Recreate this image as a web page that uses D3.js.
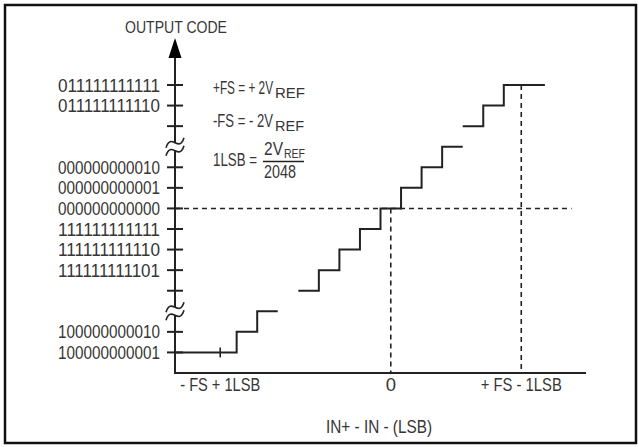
<!DOCTYPE html>
<html>
<head>
<meta charset="utf-8">
<script src="https://cdn.jsdelivr.net/npm/d3@7"></script>
<style>
  body { margin: 0; background: #fff; }
  svg text { font-family: "Liberation Sans", Arial, sans-serif; fill: #363636; }
</style>
</head>
<body>
<script>
// y levels are counted in code steps above the x axis, x in LSB steps right of the y axis
var tickLevels = [1, 2, 4, 5, 6, 7, 8, 9, 10, 12, 13, 14];
var tickLabels = ["100000000001", "100000000010", "", "111111111101", "111111111110", "111111111111",
                  "000000000000", "000000000001", "000000000010", "", "011111111110", "011111111111"];
var breakLevels = [3, 11];

// staircase pieces: [lsb, code level] points, drawn step-after
var stairLow  = [[0, 1], [3, 2], [4, 3], [5, 3]];
var stairMid  = [[6, 4], [7, 5], [8, 6], [9, 7], [10, 8], [11, 9], [12, 10], [13, 11], [14, 11]];
var stairHigh = [[14, 12], [15, 13], [16, 14], [18, 14]];

var xTickPos    = [2.2, 10.5, 16.85];
var xTickLabels = ["- FS + 1LSB", "0", "+ FS - 1LSB"];
var xTickWidths = [80, 0, 81];
var zeroLevel = 8, fullLevel = 14;

var W = 639, H = 447;
var svg = d3.select("body").append("svg").attr("width", W).attr("height", H);

var x = d3.scaleLinear().domain([0, 20]).range([175, 586]);
var y = d3.scaleLinear().domain([0, 14]).range([373, 85]);
var ink = "#222";

// text helper, squeezes to a width when given (the original face is condensed)
function txt(px, py, s, size, anchor, w) {
  var t = svg.append("text").attr("x", px).attr("y", py)
     .style("font-size", size + "px").attr("text-anchor", anchor || "start").text(s);
  if (w) t.attr("textLength", w).attr("lengthAdjust", "spacingAndGlyphs");
  return t;
}

// frame
svg.append("rect").attr("x", 5).attr("y", 5).attr("width", 631).attr("height", 438)
   .attr("fill", "none").attr("stroke", "#111").attr("stroke-width", 2.5);

// dashed guides
var dash = svg.append("g").attr("stroke", ink).attr("stroke-width", 1.6).attr("stroke-dasharray", "5,4").attr("fill", "none");
dash.append("line").attr("x1", x(0)).attr("x2", x(19.3)).attr("y1", y(zeroLevel)).attr("y2", y(zeroLevel));
dash.append("line").attr("x1", x(xTickPos[1])).attr("x2", x(xTickPos[1])).attr("y1", y(zeroLevel)).attr("y2", y(0));
dash.append("line").attr("x1", x(xTickPos[2])).attr("x2", x(xTickPos[2])).attr("y1", y(fullLevel)).attr("y2", y(0));

// staircase
var line = d3.line().x(function(d){ return x(d[0]); }).y(function(d){ return y(d[1]); }).curve(d3.curveStepAfter);
svg.selectAll(".stair").data([stairLow, stairMid, stairHigh]).enter().append("path")
   .attr("class", "stair").attr("d", line)
   .attr("fill", "none").attr("stroke", ink).attr("stroke-width", 2);
// small mark at -FS+1LSB
svg.append("line").attr("x1", x(xTickPos[0])).attr("x2", x(xTickPos[0]))
   .attr("y1", y(1) - 5).attr("y2", y(1) + 5).attr("stroke", ink).attr("stroke-width", 1.6);

// axes
var axes = svg.append("g").attr("stroke", ink).attr("stroke-width", 2).attr("fill", "none");
axes.append("line").attr("x1", x(0)).attr("x2", x(20)).attr("y1", y(0)).attr("y2", y(0));
axes.append("line").attr("x1", x(0)).attr("x2", x(0)).attr("y1", y(0) + 1).attr("y2", 56);
svg.append("path").attr("d", d3.line()([[x(0), 38], [x(0) - 6.5, 58], [x(0) + 6.5, 58]]) + "Z").attr("fill", "#000");

svg.append("g").selectAll("line").data(tickLevels).enter().append("line")
   .attr("x1", x(0) - 8).attr("x2", x(0) + 8)
   .attr("y1", function(d){ return y(d); }).attr("y2", function(d){ return y(d); })
   .attr("stroke", ink).attr("stroke-width", 2);
tickLevels.forEach(function(d, i){
  if (tickLabels[i]) txt(160, y(d) + 6.5, tickLabels[i], 18.5, "end", 102);
});

// axis breaks
var brk = svg.selectAll(".brk").data(breakLevels).enter().append("g")
   .attr("class", "brk").attr("transform", function(d){ return "translate(" + x(0) + "," + y(d) + ")"; });
brk.append("path").attr("d", "M-9,1 C-4,-15 4,7 9,-9 L9,-1 C4,15 -4,-7 -9,9 Z").attr("fill", "#fff");
brk.append("path").attr("d", "M-9,1 C-4,-15 4,7 9,-9").attr("fill", "none").attr("stroke", ink).attr("stroke-width", 1.6);
brk.append("path").attr("d", "M-9,9 C-4,-7 4,15 9,-1").attr("fill", "none").attr("stroke", ink).attr("stroke-width", 1.6);

// x labels
xTickPos.forEach(function(d, i){
  txt(x(d), 391, xTickLabels[i], 18.5, "middle", xTickWidths[i] || null);
});
txt(379, 433, "IN+ - IN - (LSB)", 18.5, "middle", 106);
txt(176, 33, "OUTPUT CODE", 17, "middle", 102);

// equations
txt(213, 94, "+FS = + 2V", 18.5, "start", 60);
txt(275, 98, "REF", 14, "start", 30);
txt(213, 127, "-FS = - 2V", 18.5, "start", 60);
txt(275, 131, "REF", 14, "start", 29);
txt(213, 166, "1LSB =", 18.5, "start", 44);
txt(264, 155, "2V", 18.5, "start", 19);
txt(284, 158, "REF", 13, "start", 21);
svg.append("line").attr("x1", 263).attr("x2", 304).attr("y1", 161.5).attr("y2", 161.5).attr("stroke", ink).attr("stroke-width", 1.5);
txt(264, 178, "2048", 18.5, "start", 32);
</script>
</body>
</html>
